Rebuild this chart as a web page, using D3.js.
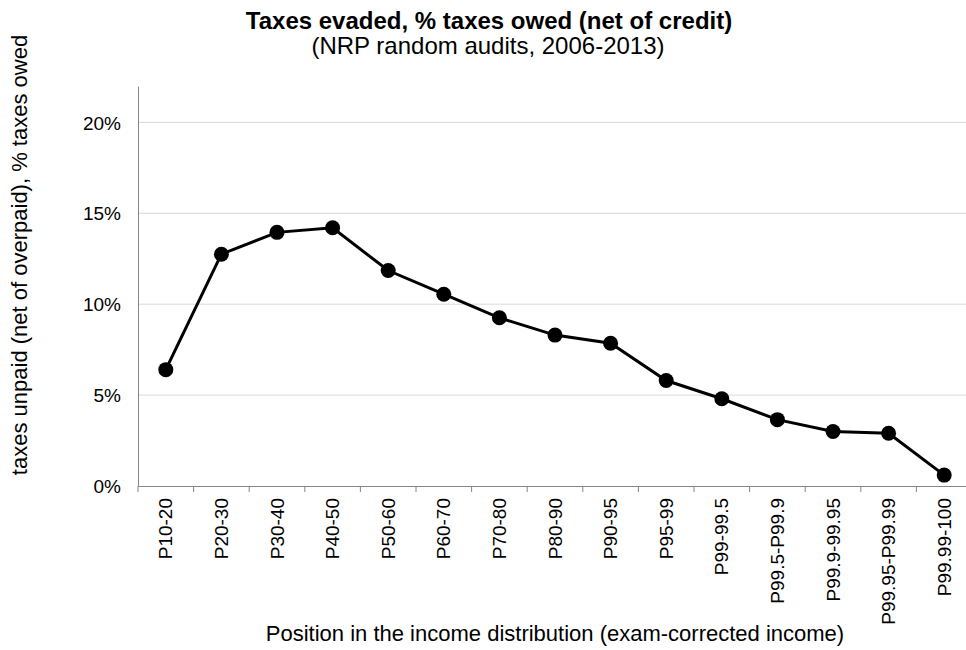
<!DOCTYPE html>
<html lang="en">
    <head>
        <meta charset="utf-8"/>
        <script src="https://d3js.org/d3.v7.min.js"></script>
        <style>
            body { margin: 0; background: #fff; }
            text { font-family: "Liberation Sans", Arial, sans-serif; fill: #000; }
        </style>
    </head>
    <body>
        <div id="chart"></div>
    </body>
    <script>
        // income groups and share of taxes owed left unpaid
        var groups = ["P10-20", "P20-30", "P30-40", "P40-50", "P50-60", "P60-70", "P70-80",
            "P80-90", "P90-95", "P95-99", "P99-99.5", "P99.5-P99.9", "P99.9-99.95",
            "P99.95-P99.99", "P99.99-100"];
        var evaded = [6.4, 12.75, 13.95, 14.2, 11.85, 10.55, 9.25, 8.3, 7.85, 5.8, 4.8, 3.65, 3.0, 2.9, 0.6];
        var yTicks = [0, 5, 10, 15, 20];

        var width = 966, height = 650;
        var margin = {top: 86, right: -6, bottom: 164, left: 138};
        var w = width - margin.left - margin.right;
        var h = height - margin.top - margin.bottom;

        var svg = d3.select("#chart")
            .append("svg")
                .attr("width", width)
                .attr("height", height);

        var g = svg.append("g")
            .attr("transform", "translate(" + margin.left + "," + margin.top + ")");

        var x = d3.scaleBand()
            .domain(groups)
            .range([0, w]);

        var y = d3.scaleLinear()
            .domain([0, 22])
            .range([h, 0]);

        // gridlines
        g.append("g")
            .selectAll("line")
            .data(yTicks.slice(1))
            .enter()
            .append("line")
                .attr("x1", 0)
                .attr("x2", w)
                .attr("y1", function (d) { return y(d); })
                .attr("y2", function (d) { return y(d); })
                .attr("stroke", "#d9d9d9")
                .attr("stroke-width", 1);

        // y axis
        var yAxis = g.append("g")
            .call(d3.axisLeft(y).tickValues(yTicks).tickSize(0).tickPadding(17)
                .tickFormat(function (d) { return d + "%"; }));
        yAxis.select(".domain").attr("stroke", "#868686");
        yAxis.selectAll("text")
            .style("font-size", "19px")
            .attr("dy", "0.35em");

        // x axis, ticks between categories
        var xAxis = g.append("g")
            .attr("transform", "translate(0," + h + ")")
            .call(d3.axisBottom(x).tickSize(0).tickSizeOuter(0));
        xAxis.select(".domain").attr("stroke", "#868686");
        xAxis.selectAll("text")
            .style("font-size", "19px")
            .attr("text-anchor", "end")
            .attr("transform", "rotate(-90)")
            .attr("x", -12)
            .attr("y", 0)
            .attr("dy", "0.35em");

        g.append("g")
            .selectAll("line")
            .data(groups)
            .enter()
            .append("line")
                .attr("x1", function (d) { return x(d); })
                .attr("x2", function (d) { return x(d); })
                .attr("y1", h)
                .attr("y2", h + 6)
                .attr("stroke", "#868686");

        var line = d3.line()
            .x(function (d, i) { return x(groups[i]) + x.bandwidth() / 2; })
            .y(function (d) { return y(d); });

        g.append("path")
            .datum(evaded)
            .attr("d", line)
            .attr("fill", "none")
            .attr("stroke", "#000")
            .attr("stroke-width", 3);

        g.selectAll("dot")
            .data(evaded)
            .enter()
            .append("circle")
                .attr("cx", function (d, i) { return x(groups[i]) + x.bandwidth() / 2; })
                .attr("cy", function (d) { return y(d); })
                .attr("r", 7.5)
                .attr("fill", "#000");

        // titles
        svg.append("text")
            .attr("x", 489)
            .attr("y", 29)
            .attr("text-anchor", "middle")
            .style("font-size", "24px")
            .style("font-weight", "bold")
            .text("Taxes evaded, % taxes owed (net of credit)");

        svg.append("text")
            .attr("x", 488)
            .attr("y", 54)
            .attr("text-anchor", "middle")
            .style("font-size", "24px")
            .text("(NRP random audits, 2006-2013)");

        svg.append("text")
            .attr("transform", "translate(27,255) rotate(-90)")
            .attr("text-anchor", "middle")
            .style("font-size", "22px")
            .text("taxes unpaid (net of overpaid), % taxes owed");

        svg.append("text")
            .attr("x", 555)
            .attr("y", 641)
            .attr("text-anchor", "middle")
            .style("font-size", "22px")
            .text("Position in the income distribution (exam-corrected income)");
    </script>
</html>
